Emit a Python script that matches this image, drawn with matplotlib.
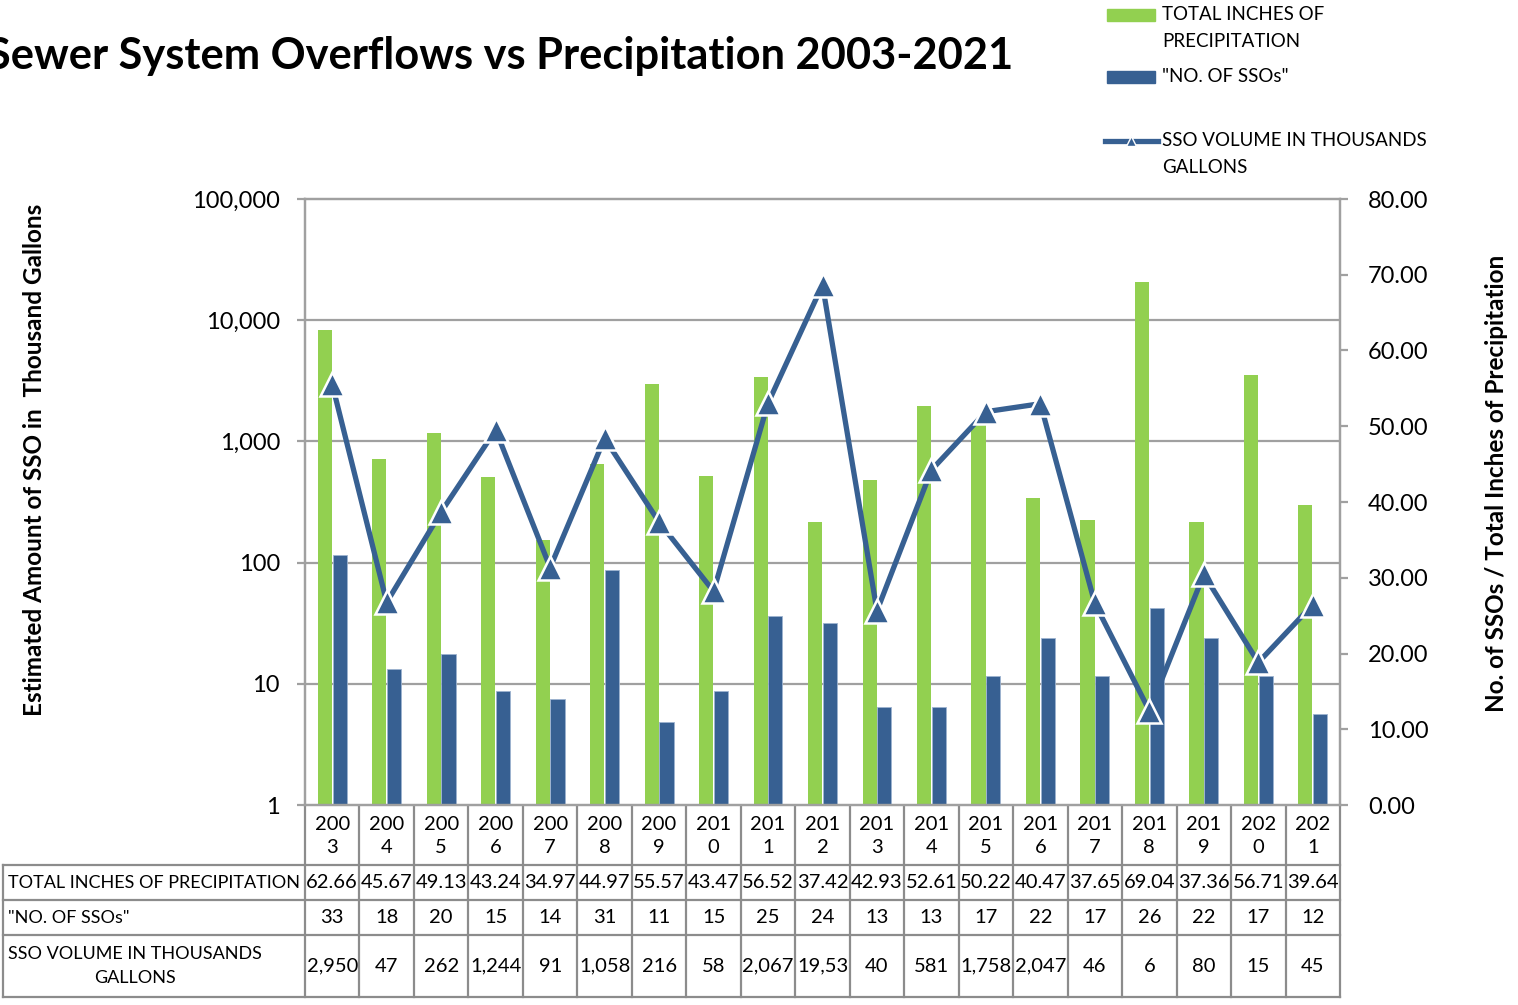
import numpy as np
import matplotlib
matplotlib.use("Agg")
from matplotlib import pyplot as plt
from matplotlib.patches import Rectangle
from matplotlib.lines import Line2D
from matplotlib.ticker import FixedLocator, FuncFormatter
import matplotlib.transforms as mtransforms

years = [2003, 2004, 2005, 2006, 2007, 2008, 2009, 2010, 2011, 2012,
         2013, 2014, 2015, 2016, 2017, 2018, 2019, 2020, 2021]
precip = [62.66, 45.67, 49.13, 43.24, 34.97, 44.97, 55.57, 43.47, 56.52, 37.42,
          42.93, 52.61, 50.22, 40.47, 37.65, 69.04, 37.36, 56.71, 39.64]
num_ssos = [33, 18, 20, 15, 14, 31, 11, 15, 25, 24, 13, 13, 17, 22, 17, 26, 22, 17, 12]
volume = [2950, 47, 262, 1244, 91, 1058, 216, 58, 2067, 19530,
          40, 581, 1758, 2047, 46, 6, 80, 15, 45]

GREEN = '#92D050'
BLUE = '#376092'
GRAY = '#A0A0A0'
FONT = 'Lato'

plt.rcParams['font.family'] = [FONT, 'DejaVu Sans']

W, H = 1518, 1005
fig = plt.figure(figsize=(W / 100, H / 100), dpi=100)

def fx(px):
    return px / W

def fy(py):
    return 1 - py / H

# plot area in pixels
L, R, T, B = 305, 1340, 199, 805
ax = fig.add_axes([fx(L), fy(B), (R - L) / W, (B - T) / H])
ax2 = ax.twinx()

x = np.arange(len(years))
bw = 0.26
ax.bar(x - 0.135, precip, bw, color=GREEN, zorder=2)
ax.bar(x + 0.135, num_ssos, bw, color=BLUE, edgecolor='#9DB3D0', linewidth=0.6, zorder=2)
ax.set_xlim(-0.5, len(years) - 0.5)
ax.set_ylim(0, 80)
ax.set_yticks(np.arange(0, 81, 10))
ax.yaxis.set_major_formatter(FuncFormatter(lambda v, p: f'{v:.2f}'))
ax.yaxis.tick_right()
ax.set_xticks([])
# horizontal gridlines follow the log decades of the left axis
ax.yaxis.set_minor_locator(FixedLocator(np.linspace(0, 80, 6)[1:-1]))
ax.grid(which='minor', axis='y', color=GRAY, linewidth=1.6)
ax.set_axisbelow(True)
ax.tick_params(axis='y', which='minor', length=0)
ax.tick_params(axis='y', which='major', direction='out', length=6, width=1.6,
               color=GRAY, labelsize=17, pad=14)

ax2.plot(x, volume, color=BLUE, linewidth=3.8, marker='^', markersize=17,
         markerfacecolor=BLUE, markeredgecolor='white', markeredgewidth=1.8, zorder=3)
ax2.set_yscale('log')
ax2.set_ylim(1, 100000)
ax2.yaxis.tick_left()
ax2.yaxis.set_major_formatter(FuncFormatter(lambda v, p: f'{v:,.0f}'))
ax2.yaxis.set_minor_locator(FixedLocator([]))
ax2.tick_params(axis='y', direction='out', length=6, width=1.6, color=GRAY,
                labelsize=17, pad=12)

for a in (ax, ax2):
    for s in a.spines.values():
        s.set_color(GRAY)
        s.set_linewidth(1.6)

# titles and axis labels
fig.text(fx(1013), fy(56), 'Sewer System Overflows vs Precipitation 2003-2021',
         ha='right', va='center', fontsize=31.2, fontweight='bold')
fig.text(fx(35), fy(460), 'Estimated Amount of SSO in  Thousand Gallons',
         rotation=90, ha='center', va='center', fontsize=17.5, fontweight='bold')
fig.text(fx(1497), fy(483), 'No. of SSOs / Total Inches of Precipitation',
         rotation=90, ha='center', va='center', fontsize=17.5, fontweight='bold')

# legend drawn by hand
fig.patches.append(Rectangle((fx(1107), fy(21)), (1155 - 1107) / W, 12 / H,
                             color=GREEN, transform=fig.transFigure))
fig.patches.append(Rectangle((fx(1107), fy(83)), (1155 - 1107) / W, 12 / H,
                             color=BLUE, transform=fig.transFigure))
fig.lines.append(Line2D([fx(1105), fx(1158)], [fy(141), fy(141)], color=BLUE,
                        linewidth=3.8, transform=fig.transFigure))
fig.lines.append(Line2D([fx(1131)], [fy(141)], color=BLUE, marker='^', markersize=7,
                        markeredgecolor='white', markeredgewidth=1,
                        transform=fig.transFigure))
leg_kw = dict(ha='left', va='center', fontsize=13.5, linespacing=1.75)
fig.text(fx(1162), fy(28), 'TOTAL INCHES OF\nPRECIPITATION', **leg_kw)
fig.text(fx(1162), fy(77), '"NO. OF SSOs"', **leg_kw)
fig.text(fx(1162), fy(154), 'SSO VOLUME IN THOUSANDS\nGALLONS', **leg_kw)

# data table under the chart
tax = fig.add_axes([0, 0, 1, 1], zorder=-1)
tax.set_xlim(0, W)
tax.set_ylim(H, 0)
tax.axis('off')
blend = mtransforms.blended_transform_factory(ax.transData, tax.transData)
tcol = '#8C8C8C'
lw = 1.6
rows = [805, 865, 900, 935, 997]

for i in range(len(years) + 1):
    tax.plot([i - 0.5, i - 0.5], [rows[0], rows[-1]], color=tcol, lw=lw, transform=blend)
for yy in rows[1:]:
    tax.plot([3, R], [yy, yy], color=tcol, lw=lw)
tax.plot([3, 3], [rows[1], rows[-1]], color=tcol, lw=lw)

cell_fs = 14.5
head_fs = 13
for i, yr in enumerate(years):
    s = str(yr)
    tax.text(i, (rows[0] + rows[1]) / 2 + 1, s[:3] + '\n' + s[3:], transform=blend,
             ha='center', va='center', fontsize=cell_fs, linespacing=1.45)
    tax.text(i, (rows[1] + rows[2]) / 2, f'{precip[i]:.2f}', transform=blend,
             ha='center', va='center', fontsize=cell_fs)
    tax.text(i, (rows[2] + rows[3]) / 2, f'{num_ssos[i]}', transform=blend,
             ha='center', va='center', fontsize=cell_fs)
    vs = f'{volume[i]:,}'
    if len(vs) > 5:
        # too wide for the cell: left aligned and cut at the cell edge, as Excel does
        t = tax.text(i - 0.46, (rows[3] + rows[4]) / 2, vs, transform=blend,
                     ha='left', va='center', fontsize=cell_fs)
        pts = blend.transform([[i - 0.5, rows[3]], [i + 0.5, rows[4]]])
        t.set_clip_box(mtransforms.Bbox.from_extents(pts[:, 0].min(), pts[:, 1].min(),
                                                     pts[:, 0].max() - 2, pts[:, 1].max()))
        t.set_clip_on(True)
    else:
        tax.text(i, (rows[3] + rows[4]) / 2, vs, transform=blend,
                 ha='center', va='center', fontsize=cell_fs)

tax.text(8, (rows[1] + rows[2]) / 2, 'TOTAL INCHES OF PRECIPITATION',
         ha='left', va='center', fontsize=head_fs)
tax.text(8, (rows[2] + rows[3]) / 2, '"NO. OF SSOs"',
         ha='left', va='center', fontsize=head_fs)
tax.text(135, (rows[3] + rows[4]) / 2, 'SSO VOLUME IN THOUSANDS\nGALLONS',
         ha='center', va='center', fontsize=head_fs, linespacing=1.55)

fig.savefig('out.png', dpi=100)
